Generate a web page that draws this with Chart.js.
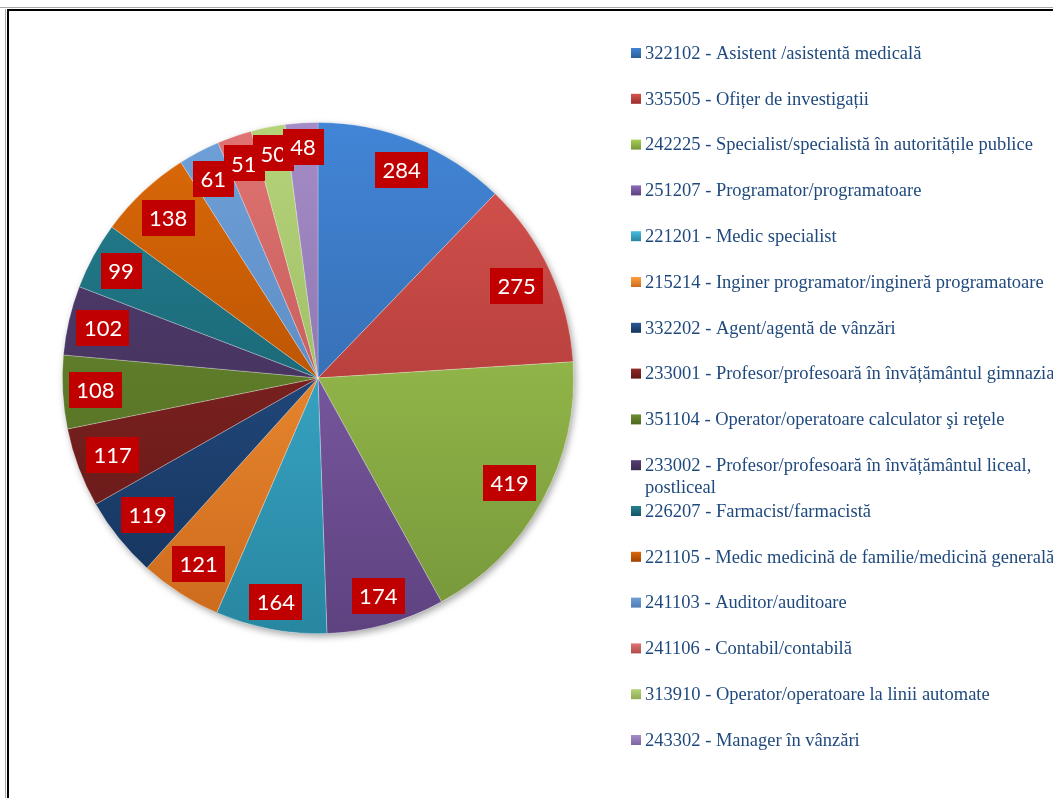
<!DOCTYPE html>
<html>
<head>
<meta charset="utf-8">
<script src="https://cdn.jsdelivr.net/npm/chart.js@4.4.1/dist/chart.umd.min.js"></script>
<style>
  html, body { margin: 0; padding: 0; background: #fff; }
  canvas { display: block; }
</style>
</head>
<body>
<canvas id="pieChart" width="1053" height="798"></canvas>
<script>
// occupation codes, in slice order (clockwise from 12 o'clock)
const CATEGORIES = [
    '322102 - Asistent /asistentă medicală',
    '335505 - Ofițer de investigații',
    '242225 - Specialist/specialistă în autoritățile publice',
    '251207 - Programator/programatoare',
    '221201 - Medic specialist',
    '215214 - Inginer programator/ingineră programatoare',
    '332202 - Agent/agentă de vânzări',
    '233001 - Profesor/profesoară în învățământul gimnazial',
    '351104 - Operator/operatoare calculator şi reţele',
    ['233002 - Profesor/profesoară în învățământul liceal,', 'postliceal'],
    '226207 - Farmacist/farmacistă',
    '221105 - Medic medicină de familie/medicină generală',
    '241103 - Auditor/auditoare',
    '241106 - Contabil/contabilă',
    '313910 - Operator/operatoare la linii automate',
    '243302 - Manager în vânzări'
];
const VACANCIES = [284, 275, 419, 174, 164, 121, 119, 117, 108, 102, 99, 138, 61, 51, 50, 48];

// [top, bottom] of each slice gradient
const SLICE_COLORS = [
    ['#4285D6', '#2D5C98'],
    ['#D85450', '#9A2E2B'],
    ['#A8CF55', '#76963A'],
    ['#8E6AB8', '#5E4280'],
    ['#45BDE0', '#2886A0'],
    ['#FF9E3E', '#CC6A1C'],
    ['#2A5A96', '#15325A'],
    ['#8E2A28', '#601716'],
    ['#6D8F32', '#4D6720'],
    ['#553F72', '#3A2A50'],
    ['#25808F', '#125565'],
    ['#DC6A08', '#A04200'],
    ['#6FA0D8', '#4F7CB5'],
    ['#E07472', '#B04C4A'],
    ['#B5D47A', '#8FAB55'],
    ['#A58CC6', '#7E66A2']
];

function sliceFill(context) {
    const chart = context.chart;
    const area = chart.chartArea;
    const pair = SLICE_COLORS[context.dataIndex % SLICE_COLORS.length];
    if (!area) return pair[0];
    const g = chart.ctx.createLinearGradient(0, area.top, 0, area.bottom);
    g.addColorStop(0, pair[0]);
    g.addColorStop(1, pair[1]);
    return g;
}

// page frame (the chart sits in a bordered box)
const framePlugin = {
    id: 'frame',
    beforeDraw(chart) {
        const c = chart.ctx;
        c.save();
        c.fillStyle = '#fff';
        c.fillRect(0, 0, chart.width, chart.height);
        c.fillStyle = '#a8a8a8';
        c.fillRect(0, 7, chart.width, 1);
        c.fillRect(5, 9, 1, chart.height);
        c.fillStyle = '#000';
        c.fillRect(7, 9, chart.width, 2);
        c.fillRect(7, 9, 2, chart.height);
        c.restore();
    }
};

// soft shadow under the whole pie
const shadowPlugin = {
    id: 'pieShadow',
    beforeDatasetsDraw(chart) {
        const arc = chart.getDatasetMeta(0).data[0];
        if (!arc) return;
        const c = chart.ctx;
        c.save();
        c.shadowColor = 'rgba(0,0,0,0.35)';
        c.shadowBlur = 7;
        c.shadowOffsetX = 2;
        c.shadowOffsetY = 3;
        c.beginPath();
        c.arc(arc.x, arc.y, arc.outerRadius, 0, Math.PI * 2);
        c.fillStyle = '#fff';
        c.fill();
        c.restore();
    }
};

// red value boxes, inside end of each slice
const valueBoxPlugin = {
    id: 'valueBoxes',
    afterDatasetsDraw(chart) {
        const c = chart.ctx;
        const meta = chart.getDatasetMeta(0);
        c.save();
        c.font = '22px Lato';
        c.textAlign = 'center';
        c.textBaseline = 'middle';
        meta.data.forEach((arc, i) => {
            const text = String(chart.data.datasets[0].data[i]);
            const w = c.measureText(text).width + 15;
            const h = 36;
            const mid = (arc.startAngle + arc.endAngle) / 2;
            const ext = w / 2 * Math.abs(Math.cos(mid)) + h / 2 * Math.abs(Math.sin(mid));
            const d = arc.outerRadius - 5 - ext;
            const x = arc.x + d * Math.cos(mid);
            const y = arc.y + d * Math.sin(mid);
            c.fillStyle = '#C00000';
            c.fillRect(Math.round(x - w / 2), Math.round(y - h / 2), Math.round(w), h);
            c.fillStyle = '#fff';
            c.fillText(text, x, y + 1);
        });
        c.restore();
    }
};

// legend on the right, drawn by hand to keep the word wrap of item 10
const legendPlugin = {
    id: 'sideLegend',
    afterDraw(chart) {
        const c = chart.ctx;
        const labels = chart.data.labels;
        c.save();
        c.font = '18.5px "Liberation Serif"';
        c.textBaseline = 'middle';
        c.textAlign = 'left';
        labels.forEach((lab, i) => {
            const y = 54 + i * 45.8;
            const pair = SLICE_COLORS[i];
            const g = c.createLinearGradient(0, y - 6, 0, y + 4);
            g.addColorStop(0, pair[0]);
            g.addColorStop(1, pair[1]);
            c.fillStyle = g;
            c.fillRect(631, y - 6, 10, 10);
            c.fillStyle = '#1F497D';
            const lines = Array.isArray(lab) ? lab : [lab];
            lines.forEach((t, j) => c.fillText(t, 645, y + j * 22));
        });
        c.restore();
    }
};

new Chart(document.getElementById('pieChart'), {
    type: 'pie',
    data: {
        labels: CATEGORIES,
        datasets: [{
            data: VACANCIES,
            backgroundColor: sliceFill,
            borderColor: 'rgba(255,255,255,0.35)',
            borderWidth: 0.75
        }]
    },
    options: {
        responsive: false,
        animation: false,
        devicePixelRatio: 1,
        layout: {
            padding: { left: 62, right: 479, top: 122, bottom: 164 }
        },
        plugins: {
            legend: { display: false },
            tooltip: { enabled: false }
        }
    },
    plugins: [framePlugin, shadowPlugin, valueBoxPlugin, legendPlugin]
});
</script>
</body>
</html>
